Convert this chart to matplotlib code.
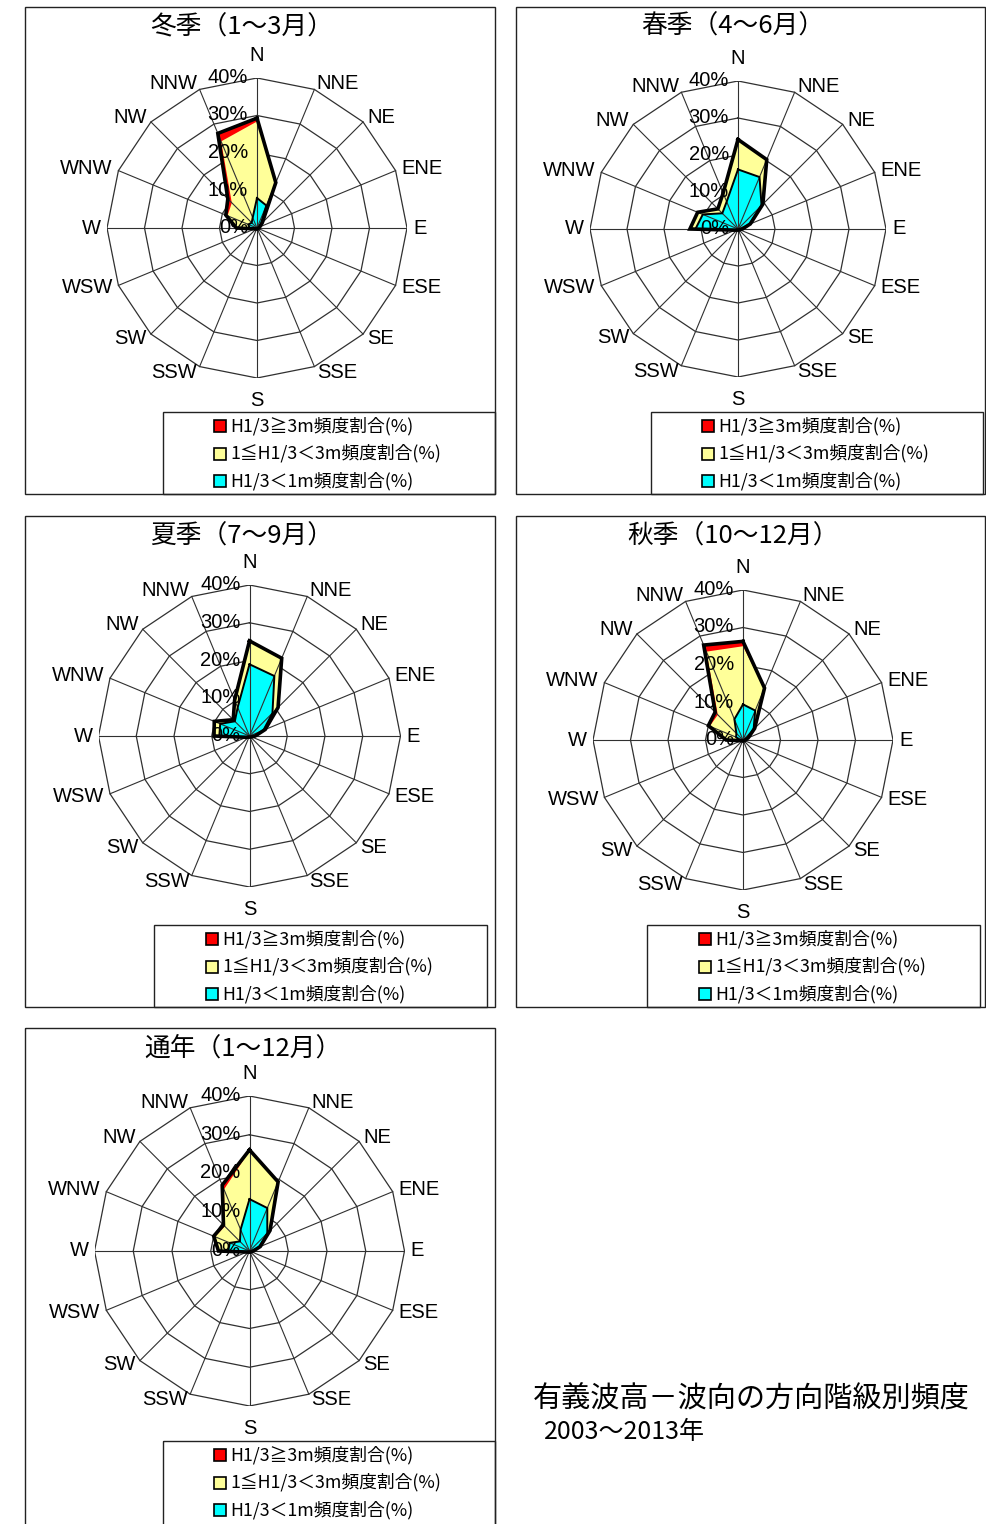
import numpy as np
import matplotlib
matplotlib.use("Agg")
import matplotlib.pyplot as plt
from matplotlib.patches import Rectangle

W_PX, H_PX = 986, 1524
DPI = 100

LATIN = ["Liberation Sans", "DejaVu Sans"]
CJK = ["Noto Sans CJK JP", "DejaVu Sans"]

DIRECTIONS = ["N", "NNE", "NE", "ENE", "E", "ESE", "SE", "SSE",
              "S", "SSW", "SW", "WSW", "W", "WNW", "NW", "NNW"]
RING_TICKS = [0, 10, 20, 30, 40]
LEGEND_LABELS = ["H1/3≧3m頻度割合(%)", "1≦H1/3＜3m頻度割合(%)", "H1/3＜1m頻度割合(%)"]
CLASS_COLORS = ["#FF0000", "#FFFF99", "#00FFFF"]

# frequency share (%) by wave height class, in DIRECTIONS order
WINTER_LOW  = [8.0, 6.5, 1.5, 0.6, 0.4, 0.3, 0.3, 0.2, 0.2, 0.2, 0.3, 0.4, 2.0, 2.5, 2.0, 3.0]
WINTER_MID  = [20.4, 6.4, 0.4, 0.2, 0.1, 0.0, 0.0, 0.1, 0.1, 0.1, 0.1, 0.2, 3.3, 6.0, 7.5, 22.0]
WINTER_HIGH = [0.9, 0.2, 0.1, 0.0, 0.0, 0.0, 0.0, 0.0, 0.0, 0.0, 0.0, 0.0, 0.2, 0.5, 1.5, 2.3]

SPRING_LOW  = [16.1, 15.2, 9.0, 3.3, 1.1, 0.5, 0.4, 0.3, 0.3, 0.3, 0.4, 0.7, 11.5, 10.3, 6.0, 8.0]
SPRING_MID  = [7.9, 4.9, 0.4, 0.2, 0.1, 0.0, 0.0, 0.0, 0.0, 0.0, 0.0, 0.1, 1.4, 1.4, 1.6, 2.4]
SPRING_HIGH = [0.2, 0.2, 0.1, 0.1, 0.0, 0.0, 0.0, 0.0, 0.0, 0.0, 0.0, 0.0, 0.1, 0.1, 0.1, 0.1]

SUMMER_LOW  = [19.0, 17.2, 8.6, 4.0, 1.4, 0.5, 0.4, 0.3, 0.3, 0.3, 0.4, 0.8, 8.0, 8.4, 5.5, 8.2]
SUMMER_MID  = [6.0, 4.9, 2.0, 0.5, 0.1, 0.1, 0.0, 0.0, 0.0, 0.0, 0.0, 0.1, 1.3, 1.6, 0.5, 2.0]
SUMMER_HIGH = [0.2, 0.2, 0.1, 0.0, 0.0, 0.0, 0.0, 0.0, 0.0, 0.0, 0.0, 0.0, 0.1, 0.1, 0.1, 0.1]

AUTUMN_LOW  = [9.5, 8.5, 4.0, 1.3, 0.5, 0.4, 0.3, 0.3, 0.3, 0.3, 0.3, 0.4, 1.0, 2.0, 2.5, 6.0]
AUTUMN_MID  = [15.5, 6.4, 0.4, 0.2, 0.1, 0.0, 0.0, 0.0, 0.0, 0.0, 0.0, 0.1, 3.4, 7.6, 7.0, 19.5]
AUTUMN_HIGH = [1.3, 0.1, 0.0, 0.0, 0.0, 0.0, 0.0, 0.0, 0.0, 0.0, 0.0, 0.0, 0.1, 0.4, 1.0, 1.9]

ANNUAL_LOW  = [13.4, 12.0, 6.5, 2.7, 0.9, 0.5, 0.4, 0.3, 0.3, 0.3, 0.4, 0.6, 5.5, 5.5, 3.5, 6.0]
ANNUAL_MID  = [12.4, 7.1, 0.9, 0.3, 0.1, 0.0, 0.0, 0.0, 0.0, 0.0, 0.0, 0.1, 2.4, 4.1, 5.5, 11.2]
ANNUAL_HIGH = [0.3, 0.2, 0.1, 0.0, 0.0, 0.0, 0.0, 0.0, 0.0, 0.0, 0.0, 0.0, 0.1, 0.4, 0.5, 1.2]

TITLES = ["冬季（1～3月）", "春季（4～6月）", "夏季（7～9月）", "秋季（10～12月）", "通年（1～12月）"]
FOOT_TITLE = "有義波高－波向の方向階級別頻度"
FOOT_PERIOD = "2003～2013年"

# panel layout in pixels: frame box, title centre, rose centre/radius, legend box
PANELS = [
    dict(frame=(25, 7, 495, 494), title=(242, 27), centre=(257, 228), radius=150,
         legend=(163, 412, 495, 494), marker_x=220),
    dict(frame=(516, 7, 985, 494), title=(733, 27), centre=(738, 229), radius=148,
         legend=(651, 412, 983, 494), marker_x=708),
    dict(frame=(25, 516, 495, 1007), title=(242, 537), centre=(249.5, 736), radius=151,
         legend=(154, 925, 487, 1007), marker_x=212),
    dict(frame=(516, 516, 985, 1007), title=(733, 537), centre=(743, 740), radius=150,
         legend=(647, 925, 980, 1007), marker_x=705),
    dict(frame=(25, 1028, 495, 1540), title=(243, 1049), centre=(249.5, 1251), radius=155,
         legend=(163, 1441, 495, 1540), marker_x=220),
]
SEASONS = [
    (WINTER_LOW, WINTER_MID, WINTER_HIGH),
    (SPRING_LOW, SPRING_MID, SPRING_HIGH),
    (SUMMER_LOW, SUMMER_MID, SUMMER_HIGH),
    (AUTUMN_LOW, AUTUMN_MID, AUTUMN_HIGH),
    (ANNUAL_LOW, ANNUAL_MID, ANNUAL_HIGH),
]

ANGLES = np.deg2rad(np.arange(len(DIRECTIONS)) * 360.0 / len(DIRECTIONS))
R_MAX = RING_TICKS[-1]


def to_xy(values):
    v = np.asarray(values, dtype=float)
    x = v * np.sin(ANGLES)
    y = v * np.cos(ANGLES)
    return np.append(x, x[0]), np.append(y, y[0])


def draw_rose(ax, low, mid, high, radius_px):
    low = np.asarray(low)
    below3 = low + np.asarray(mid)
    total = below3 + np.asarray(high)

    # polygon rings and spokes
    for t in RING_TICKS[1:]:
        gx, gy = to_xy([t] * len(DIRECTIONS))
        ax.plot(gx, gy, color="#303030", lw=0.9, zorder=1)
    for a in ANGLES:
        ax.plot([0, R_MAX * np.sin(a)], [0, R_MAX * np.cos(a)],
                color="#303030", lw=0.8, zorder=5)

    for vals, colour, z in [(total, CLASS_COLORS[0], 2),
                            (below3, CLASS_COLORS[1], 3),
                            (low, CLASS_COLORS[2], 4)]:
        px, py = to_xy(vals)
        ax.fill(px, py, color=colour, lw=0, zorder=z)
    px, py = to_xy(low)
    ax.plot(px, py, color="black", lw=1.4, zorder=6, solid_joinstyle="miter")
    px, py = to_xy(total)
    ax.plot(px, py, color="black", lw=2.6, zorder=6, solid_joinstyle="miter")

    # ring labels along the north spoke
    k = R_MAX / radius_px
    for t in RING_TICKS:
        ax.text(-9 * k, t + 0.5 * k, f"{t}%", ha="right", va="center",
                fontsize=14.5, family=LATIN, zorder=8, clip_on=False)

    # compass labels: side labels hang off the tip, N/S sit above/below
    for name, a in zip(DIRECTIONS, ANGLES):
        s, c = np.sin(a), np.cos(a)
        if abs(s) < 1e-6:
            r = (radius_px + 13) * k
            va = "bottom" if c > 0 else "top"
            ax.text(0, r * c, name, ha="center", va=va, fontsize=14.5,
                    family=LATIN, clip_on=False, zorder=8)
        else:
            r = (radius_px + 6) * k
            ha = "left" if s > 0 else "right"
            ax.text(r * s, r * c, name, ha=ha, va="center", fontsize=14.5,
                    family=LATIN, clip_on=False, zorder=8)

    ax.set_xlim(-R_MAX, R_MAX)
    ax.set_ylim(-R_MAX, R_MAX)
    ax.axis("off")


fig = plt.figure(figsize=(W_PX / DPI, H_PX / DPI), dpi=DPI)
canvas = fig.add_axes([0, 0, 1, 1])
canvas.set_xlim(0, W_PX)
canvas.set_ylim(H_PX, 0)
canvas.axis("off")

for title, panel, (low, mid, high) in zip(TITLES, PANELS, SEASONS):
    x0, y0, x1, y1 = panel["frame"]
    canvas.add_patch(Rectangle((x0, y0), x1 - x0, y1 - y0, fill=False,
                               edgecolor="#222222", lw=1.0))
    tx, ty = panel["title"]
    canvas.text(tx, ty, title, ha="center", va="center", fontsize=18.5, family=CJK)

    lx0, ly0, lx1, ly1 = panel["legend"]
    canvas.add_patch(Rectangle((lx0, ly0), lx1 - lx0, ly1 - ly0, fill=False,
                               edgecolor="#222222", lw=1.0))
    mx = panel["marker_x"]
    for i, (label, colour) in enumerate(zip(LEGEND_LABELS, CLASS_COLORS)):
        yy = ly0 + 14 + i * 27.5
        canvas.add_patch(Rectangle((mx - 6, yy - 6), 12, 12, facecolor=colour,
                                   edgecolor="black", lw=1.2, zorder=3))
        canvas.text(mx + 10, yy, label, ha="left", va="center", fontsize=12.8, family=CJK)

    cx, cy = panel["centre"]
    R = panel["radius"]
    ax = fig.add_axes([(cx - R) / W_PX, 1 - (cy + R) / H_PX, 2 * R / W_PX, 2 * R / H_PX])
    draw_rose(ax, low, mid, high, R)

canvas.text(533, 1400, FOOT_TITLE, ha="left", va="center", fontsize=21, family=CJK)
canvas.text(544, 1432, FOOT_PERIOD, ha="left", va="center", fontsize=18, family=CJK)

fig.savefig("out.png", dpi=DPI)
